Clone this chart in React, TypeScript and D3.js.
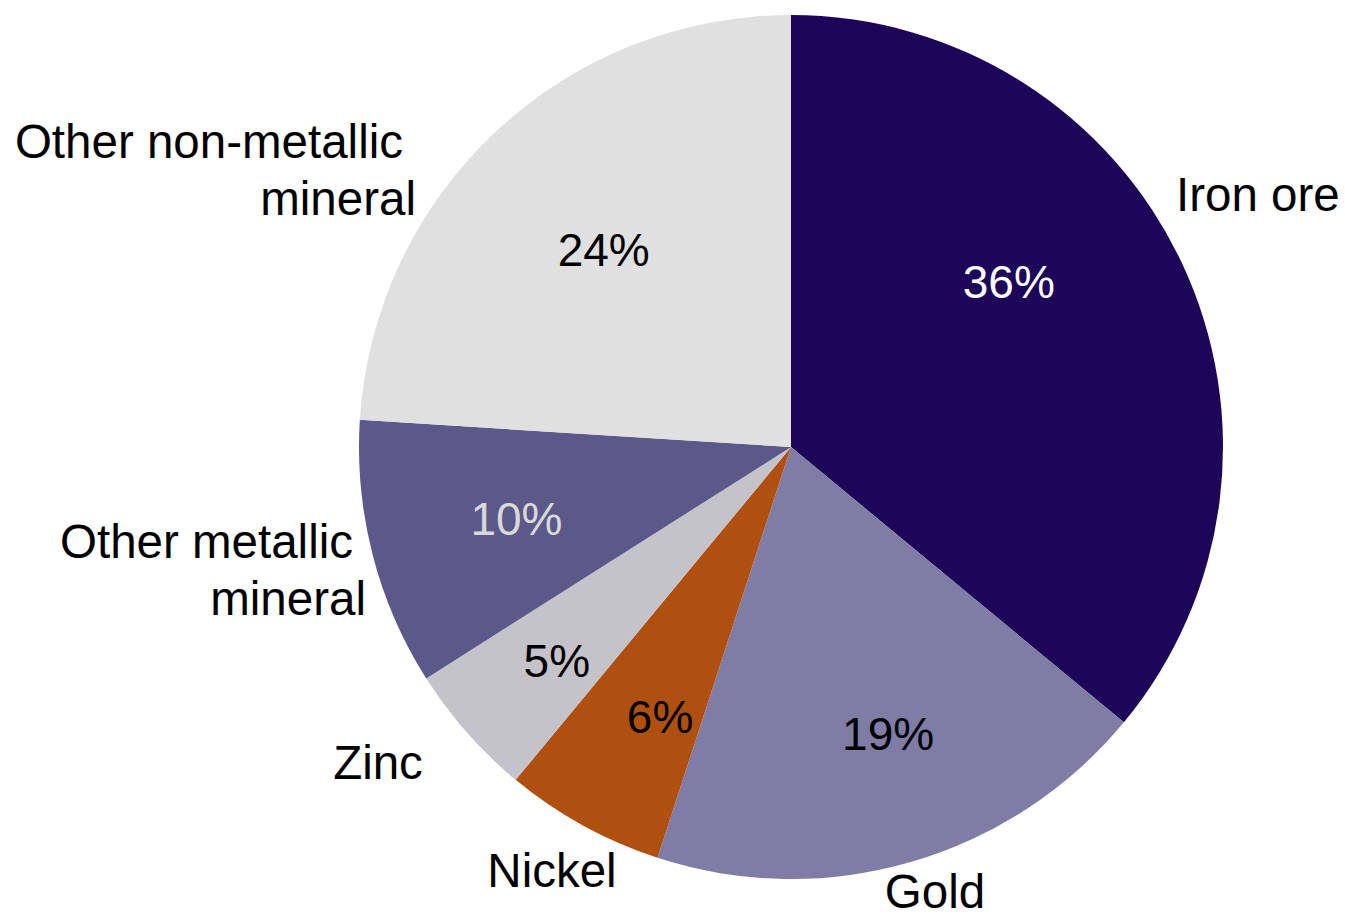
import React from "react";
import * as d3 from "d3";

const categories = ["Iron ore", "Gold", "Nickel", "Zinc", "Other metallic mineral", "Other non-metallic mineral"];
const values = [36, 19, 6, 5, 10, 24];
const pctLabels = ["36%", "19%", "6%", "5%", "10%", "24%"];

const colors = ["#1d0559", "#7f7ca5", "#b05010", "#c4c3c9", "#5c5889", "#e0e0e0"];
const pctColors = ["#ffffff", "#000000", "#000000", "#000000", "#d9d9d9", "#000000"];

// label layout: percentage label radius (fraction of R) and angle shift (deg)
const pctLayout = [
  { k: 0.632, dA: -11.9 },
  { k: 0.701, dA: -2.5 },
  { k: 0.694, dA: -2.9 },
  { k: 0.734, dA: -1.0 },
  { k: 0.657, dA: -0.3 },
  { k: 0.63, dA: -0.3 },
];
// name label lines, anchor & position
const nameLayout = [
  { lines: ["Iron ore"], anchor: "start", x: 1176, y: 211 },
  { lines: ["Gold"], anchor: "middle", x: 935, y: 908 },
  { lines: ["Nickel"], anchor: "middle", x: 552, y: 887 },
  { lines: ["Zinc"], anchor: "middle", x: 378, y: 779 },
  { lines: ["Other metallic", "mineral"], anchor: "end", x: 366, y: 558, off: [13, 0] },
  { lines: ["Other non-metallic", "mineral"], anchor: "end", x: 416, y: 158, off: [13, 0] },
];

const W = 1345;
const H = 916;
const cx = 791;
const cy = 447;
const R = 432;
const pctFontSize = 46;
const nameFontSize = 47.5;
const lineH = 57;

export default function App() {
  const pie = d3.pie<number>().sort(null).value((d) => d)(values);
  const arc = d3.arc<d3.PieArcDatum<number>>().innerRadius(0).outerRadius(R);

  return (
    <svg
      width={W}
      height={H}
      style={{ position: "absolute", left: 0, top: 0, background: "#fff" }}
      fontFamily="'Liberation Sans', Arial, sans-serif"
    >
      <g transform={`translate(${cx},${cy})`}>
        {pie.map((p, i) => (
          <path key={categories[i]} d={arc(p) || ""} fill={colors[i]} />
        ))}
        {pie.map((p, i) => {
          const mid = (p.startAngle + p.endAngle) / 2 + (pctLayout[i].dA * Math.PI) / 180;
          const r = R * pctLayout[i].k;
          const x = r * Math.sin(mid);
          const y = -r * Math.cos(mid);
          return (
            <text
              key={"p" + i}
              x={x}
              y={y}
              textAnchor="middle"
              dominantBaseline="central"
              fontSize={pctFontSize}
              fill={pctColors[i]}
            >
              {pctLabels[i]}
            </text>
          );
        })}
      </g>
      {nameLayout.map((n, i) => (
        <text key={"n" + i} fontSize={nameFontSize} fill="#000" textAnchor={n.anchor as any}>
          {n.lines.map((l, j) => (
            <tspan key={j} x={n.x - (n.off ? n.off[j] : 0)} y={n.y + j * lineH}>
              {l}
            </tspan>
          ))}
        </text>
      ))}
    </svg>
  );
}
